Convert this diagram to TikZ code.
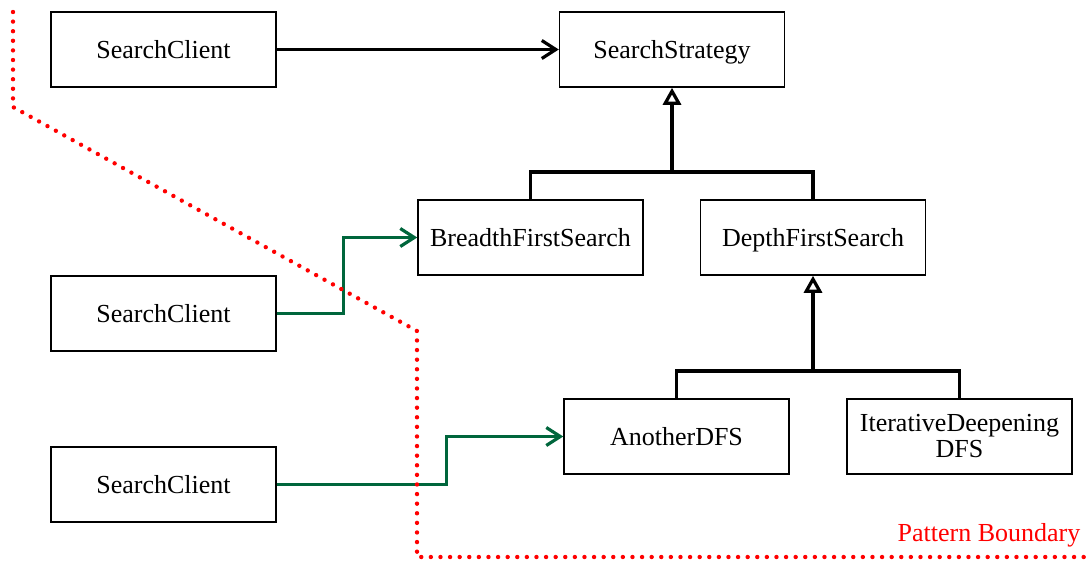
\documentclass[tikz,border=0pt]{standalone}
\usepackage{fontspec}
\setmainfont{Liberation Serif}
\usetikzlibrary{arrows.meta}
\definecolor{linkgreen}{RGB}{0,102,60}

\tikzset{
  classbox/.style={draw=black, line width=1.5pt, minimum width=225pt, minimum height=75pt,
    inner sep=0pt, align=center, text height=17.2pt, text depth=0pt,
    font=\fontsize{26}{26}\selectfont},
  uses/.style={line width=3.2pt, -{Straight Barb[length=14pt, width=18pt, line width=3.2pt]}},
  greenuses/.style={uses, draw=linkgreen},
  inherits/.style={line width=3.2pt, -{Triangle[open, fill=white, length=17pt, width=18pt, line width=3.2pt]}},
  boundary/.style={red, line width=4.4pt, line cap=round, dash pattern=on 0pt off 9.6pt}
}

\begin{document}
\begin{tikzpicture}[x=1pt, y=-1pt]
        \useasboundingbox (0,0) rectangle (1091,560);

        % Classes of the pattern
        \node[classbox] (strategy) at (672,49.5) {SearchStrategy};
        \node[classbox] (bfs) at (530.5,237.5) {BreadthFirstSearch};
        \node[classbox] (dfs) at (813,237.5) {DepthFirstSearch};
        \node[classbox] (another) at (676.5,436.5) {AnotherDFS};
        \node[classbox, text height=, text depth=] (iterative) at (959.5,436.5) {IterativeDeepening\\DFS};

        % Clients
        \node[classbox] (client1) at (163.5,49.5) {SearchClient};
        \node[classbox] (client2) at (163.5,313.5) {SearchClient};
        \node[classbox] (client3) at (163.5,484.5) {SearchClient};

        % Join points of the inheritance trees
        \coordinate (J1) at (672,172);
        \coordinate (J2) at (813,371);

        % Inheritance
        \draw[line width=3.2pt] (bfs.north) |- (J1) -| (dfs.north);
        \draw[inherits] (J1) -- (strategy.south);
        \draw[line width=3.2pt] (another.north) |- (J2) -| (iterative.north);
        \draw[inherits] (J2) -- (dfs.south);

        % Client links
        \draw[uses] (client1.east) -- (strategy.west);
        \draw[greenuses] (client2.east) -- ++(67,0) |- (bfs.west);
        \draw[greenuses] (client3.east) -- ++(170,0) |- (another.west);

        % Pattern boundary
        \draw[boundary] (13,12) -- (13,107) -- (417,331) -- (417,557) -- (1091,557);
        \node[red, font=\fontsize{26}{28}\selectfont] (boundlabel) at (989,535) {Pattern Boundary};
\end{tikzpicture}
\end{document}
